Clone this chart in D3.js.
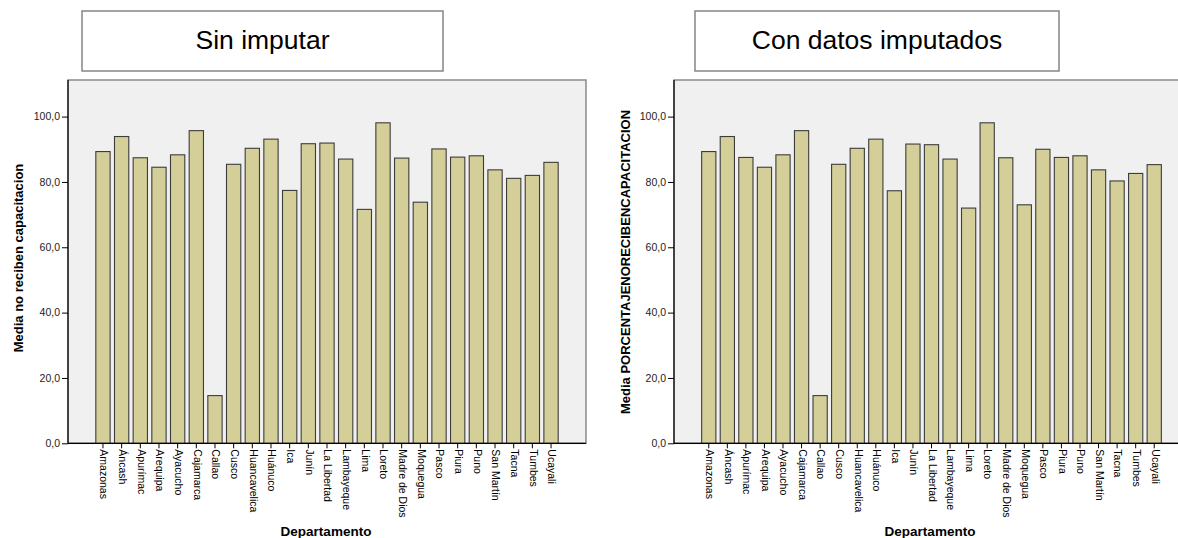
<!DOCTYPE html>
<html><head><meta charset="utf-8">
<script src="https://cdn.jsdelivr.net/npm/d3@7"></script>
<style>
html,body{margin:0;padding:0;background:#fff;overflow:hidden}
svg{display:block;font-family:Arial,"Liberation Sans",sans-serif}
</style></head><body>
<svg id="chart" width="1178" height="538"></svg>
<script>
const categories = ["Amazonas","Áncash","Apurímac","Arequipa","Ayacucho","Cajamarca","Callao","Cusco","Huancavelica","Huánuco","Ica","Junín","La Libertad","Lambayeque","Lima","Loreto","Madre de Dios","Moquegua","Pasco","Piura","Puno","San Martín","Tacna","Tumbes","Ucayali"];
const sinImputar = [89.3,93.9,87.4,84.5,88.3,95.7,14.6,85.4,90.3,93.1,77.4,91.7,91.9,87.0,71.6,98.1,87.3,73.8,90.1,87.6,88.0,83.7,81.1,82.0,86.0];
const conImputados = [89.3,93.9,87.5,84.5,88.3,95.7,14.6,85.4,90.3,93.1,77.3,91.6,91.4,87.0,72.0,98.1,87.4,73.0,90.0,87.5,88.0,83.7,80.3,82.6,85.3];
const yTicks = [0,20,40,60,80,100];
const titles = ["Sin imputar","Con datos imputados"];
const yTitles = ["Media no reciben capacitacion","Media PORCENTAJENORECIBENCAPACITACION"];
const xTitle = "Departamento";

const svg = d3.select("#chart");
const fmt = v => d3.format(".1f")(v).replace(".", ",");

function panel(o){
  const g = svg.append("g");
  // title box
  g.append("rect").attr("x",o.boxX).attr("y",11).attr("width",o.boxW).attr("height",60)
    .attr("fill","#fff").attr("stroke","#858585").attr("stroke-width",1.5);
  g.append("text").attr("x",o.boxX+o.boxW/2).attr("y",49).attr("text-anchor","middle")
    .attr("font-size",26.5).attr("fill","#000").text(o.title);

  const top=80, bottom=443.3;
  const y = d3.scaleLinear().domain([0,111]).range([bottom, bottom-111*3.267]);
  const x = d3.scaleBand().domain(categories).range([o.left,o.right]).paddingInner(0.234).paddingOuter(1.49);

  // plot background
  g.append("rect").attr("x",o.left).attr("y",top).attr("width",o.right-o.left).attr("height",bottom-top)
    .attr("fill","#f0f0f0").attr("stroke","#8a8a8a").attr("stroke-width",1.5);

  // bars
  g.selectAll("rect.bar").data(o.values).enter().append("rect").attr("class","bar")
    .attr("x",(d,i)=>x(categories[i])).attr("width",x.bandwidth())
    .attr("y",d=>y(d)).attr("height",d=>y(0)-y(d))
    .attr("fill","#d4cf98").attr("stroke","#3c3c3c").attr("stroke-width",1.1);

  // y axis
  const ya = g.append("g").attr("transform",`translate(${o.left},0)`)
    .call(d3.axisLeft(y).tickValues(yTicks).tickFormat(fmt).tickSize(6).tickPadding(2));
  ya.select(".domain").remove();
  ya.selectAll("line").attr("stroke","#000");
  ya.selectAll("text").attr("font-size",10.5).attr("fill","#222").attr("font-family","Arial,'Liberation Sans',sans-serif");
  g.append("line").attr("x1",o.left).attr("x2",o.left).attr("y1",top).attr("y2",bottom).attr("stroke","#000").attr("stroke-width",1.2);

  // x axis
  const xa = g.append("g").attr("transform",`translate(0,${bottom})`)
    .call(d3.axisBottom(x).tickSize(5).tickSizeOuter(0));
  xa.select(".domain").remove();
  xa.selectAll("line").attr("stroke","#000");
  xa.selectAll("text").attr("font-size",10.5).attr("fill","#000")
    .attr("font-family","Arial,'Liberation Sans',sans-serif")
    .attr("text-anchor","start").attr("transform","rotate(90)")
    .attr("x",6).attr("y",-1).attr("dy","0.35em");
  g.append("line").attr("x1",o.left).attr("x2",o.right).attr("y1",bottom).attr("y2",bottom).attr("stroke","#000").attr("stroke-width",1.2);

  // axis titles
  g.append("text").attr("transform",`translate(${o.yTitleX},${o.yTitleY}) rotate(-90)`)
    .attr("text-anchor","middle").attr("font-size",13).attr("font-weight","bold").text(o.yTitle);
  g.append("text").attr("x",o.xTitleX).attr("y",536).attr("text-anchor","middle")
    .attr("font-size",13.5).attr("font-weight","bold").text(xTitle);
}

panel({title:titles[0], boxX:82, boxW:361, left:68, right:586, values:sinImputar,
  yTitle:yTitles[0], yTitleX:23, yTitleY:258, xTitleX:326});
panel({title:titles[1], boxX:695, boxW:364, left:674, right:1189, values:conImputados,
  yTitle:yTitles[1], yTitleX:630, yTitleY:262, xTitleX:930});
</script>
</body></html>
